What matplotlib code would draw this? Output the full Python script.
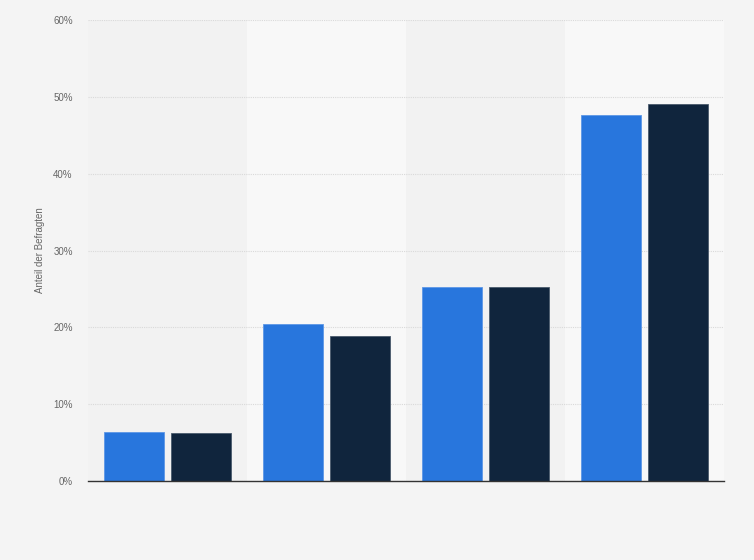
import matplotlib.pyplot as plt
import numpy as np

plt.rcParams['font.family'] = ['Liberation Sans', 'DejaVu Sans']

# values (percent of respondents)
groups = ['', '', '', '']
series_a = [6.4, 20.4, 25.2, 47.6]
series_b = [6.2, 18.9, 25.3, 49.1]
yticks = [0, 10, 20, 30, 40, 50, 60]

blue = '#2876dd'
navy = '#10253d'

fig = plt.figure(figsize=(7.54, 5.6), dpi=100, facecolor='#f4f4f4')
ax = fig.add_axes([0.1167, 0.141, 0.8435, 0.823])
ax.set_facecolor('#f4f4f4')

x = np.arange(len(groups))
width = 0.377
off = 0.208

# alternating column bands
for i in x:
    ax.axvspan(i - 0.5, i + 0.5, color='#f2f2f2' if i % 2 == 0 else '#f8f8f8', zorder=0, lw=0)

ax.bar(x - off, series_a, width, color=blue, edgecolor='#5d97e6', linewidth=0.6, zorder=3)
ax.bar(x + off, series_b, width, color=navy, edgecolor='#4a5a6c', linewidth=0.6, zorder=3)

ax.set_xlim(-0.5, len(groups) - 0.5)
ax.set_ylim(0, 60)
ax.set_yticks(yticks)
ax.set_yticklabels([f'{t}%' for t in yticks], fontsize=7, color='#666666')
ax.set_xticks([])
ax.tick_params(axis='y', length=0, pad=11)
ax.yaxis.grid(True, linestyle=(0, (1, 1)), color='#d9d9d9', linewidth=0.8, zorder=1)
ax.set_axisbelow(True)

for s in ['top', 'right', 'left']:
    ax.spines[s].set_visible(False)
ax.spines['bottom'].set_color('#333333')
ax.spines['bottom'].set_linewidth(1.0)
ax.spines['bottom'].set_zorder(4)

ax.set_ylabel('Anteil der Befragten', fontsize=7, color='#666666', labelpad=6)

plt.savefig('out.png', dpi=100, facecolor=fig.get_facecolor())
